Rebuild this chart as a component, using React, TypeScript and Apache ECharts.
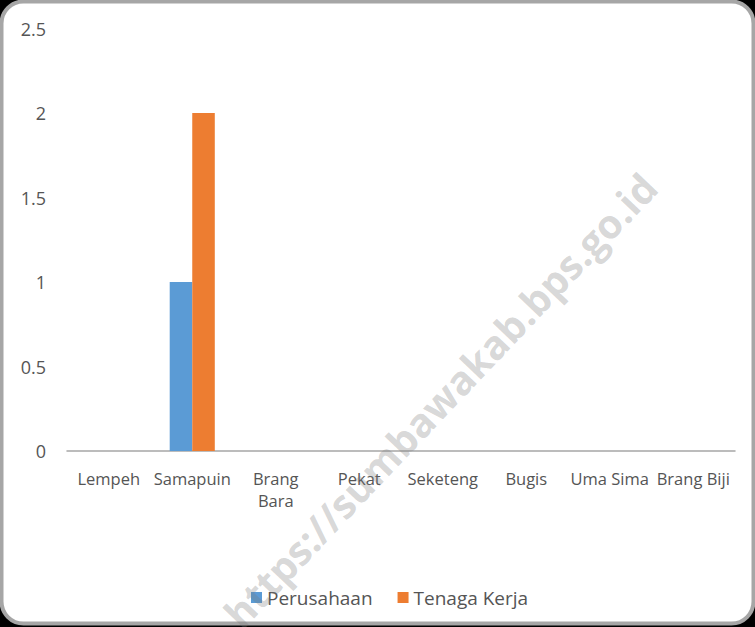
import React, { useEffect, useRef } from "react";
import * as echarts from "echarts";

const categories = ["Lempeh", "Samapuin", "Brang Bara", "Pekat", "Seketeng", "Bugis", "Uma Sima", "Brang Biji"];
const perusahaan = [0, 1, 0, 0, 0, 0, 0, 0];
const tenagaKerja = [0, 2, 0, 0, 0, 0, 0, 0];
const yTicks = { min: 0, max: 2.5, interval: 0.5 };
const watermark = "https://sumbawakab.bps.go.id";

const FONT = "'Open Sans', 'Noto Sans', sans-serif";

export default function App() {
  const ref = useRef<HTMLDivElement>(null);
  useEffect(() => {
    if (!ref.current) return;
    const chart = echarts.init(ref.current, null, { renderer: "svg" });
    chart.setOption({
      animation: false,
      backgroundColor: "#000",
      graphic: [
        {
          type: "rect",
          z: -10,
          silent: true,
          shape: { x: 1.5, y: 1.5, width: 752, height: 622, r: 22 },
          style: { fill: "#fff", stroke: "#a6a6a6", lineWidth: 4 },
        },
        {
          type: "text",
          z: 100,
          silent: true,
          x: 440,
          y: 400,
          rotation: (46.5 * Math.PI) / 180,
          style: {
            text: watermark,
            font: `bold 40px ${FONT}`,
            fill: "rgba(120,120,120,0.3)",
            align: "center",
            verticalAlign: "middle",
          },
        },
      ],
      grid: { left: 67, right: 20, top: 28.5, bottom: 176, containLabel: false },
      legend: {
        top: 583,
        left: 246,
        itemWidth: 11,
        itemHeight: 11,
        itemGap: 25,
        icon: "rect",
        textStyle: { color: "#555", fontSize: 19, fontFamily: FONT },
        data: ["Perusahaan", "Tenaga Kerja"],
      },
      xAxis: {
        type: "category",
        data: categories,
        axisLine: { lineStyle: { color: "#a6a6a6", width: 1.5 } },
        axisTick: { show: false },
        axisLabel: {
          color: "#555",
          fontSize: 16.5,
          fontFamily: FONT,
          margin: 16,
          interval: 0,
          lineHeight: 22,
          formatter: (v: string) => (v === "Brang Bara" ? "Brang\nBara" : v),
        },
      },
      yAxis: {
        type: "value",
        min: yTicks.min,
        max: yTicks.max,
        interval: yTicks.interval,
        splitLine: { show: false },
        axisLine: { show: false },
        axisTick: { show: false },
        axisLabel: { color: "#555", fontSize: 18, fontFamily: FONT, margin: 21 },
      },
      series: [
        {
          name: "Perusahaan",
          type: "bar",
          data: perusahaan,
          itemStyle: { color: "#5b9bd5" },
          barWidth: "27%",
          barGap: "0%",
        },
        {
          name: "Tenaga Kerja",
          type: "bar",
          data: tenagaKerja,
          itemStyle: { color: "#ed7d31" },
          barWidth: "27%",
          barGap: "0%",
        },
      ],
    });
    return () => chart.dispose();
  }, []);
  return <div ref={ref} style={{ position: "absolute", left: 0, top: 0, width: 755, height: 627 }} />;
}
